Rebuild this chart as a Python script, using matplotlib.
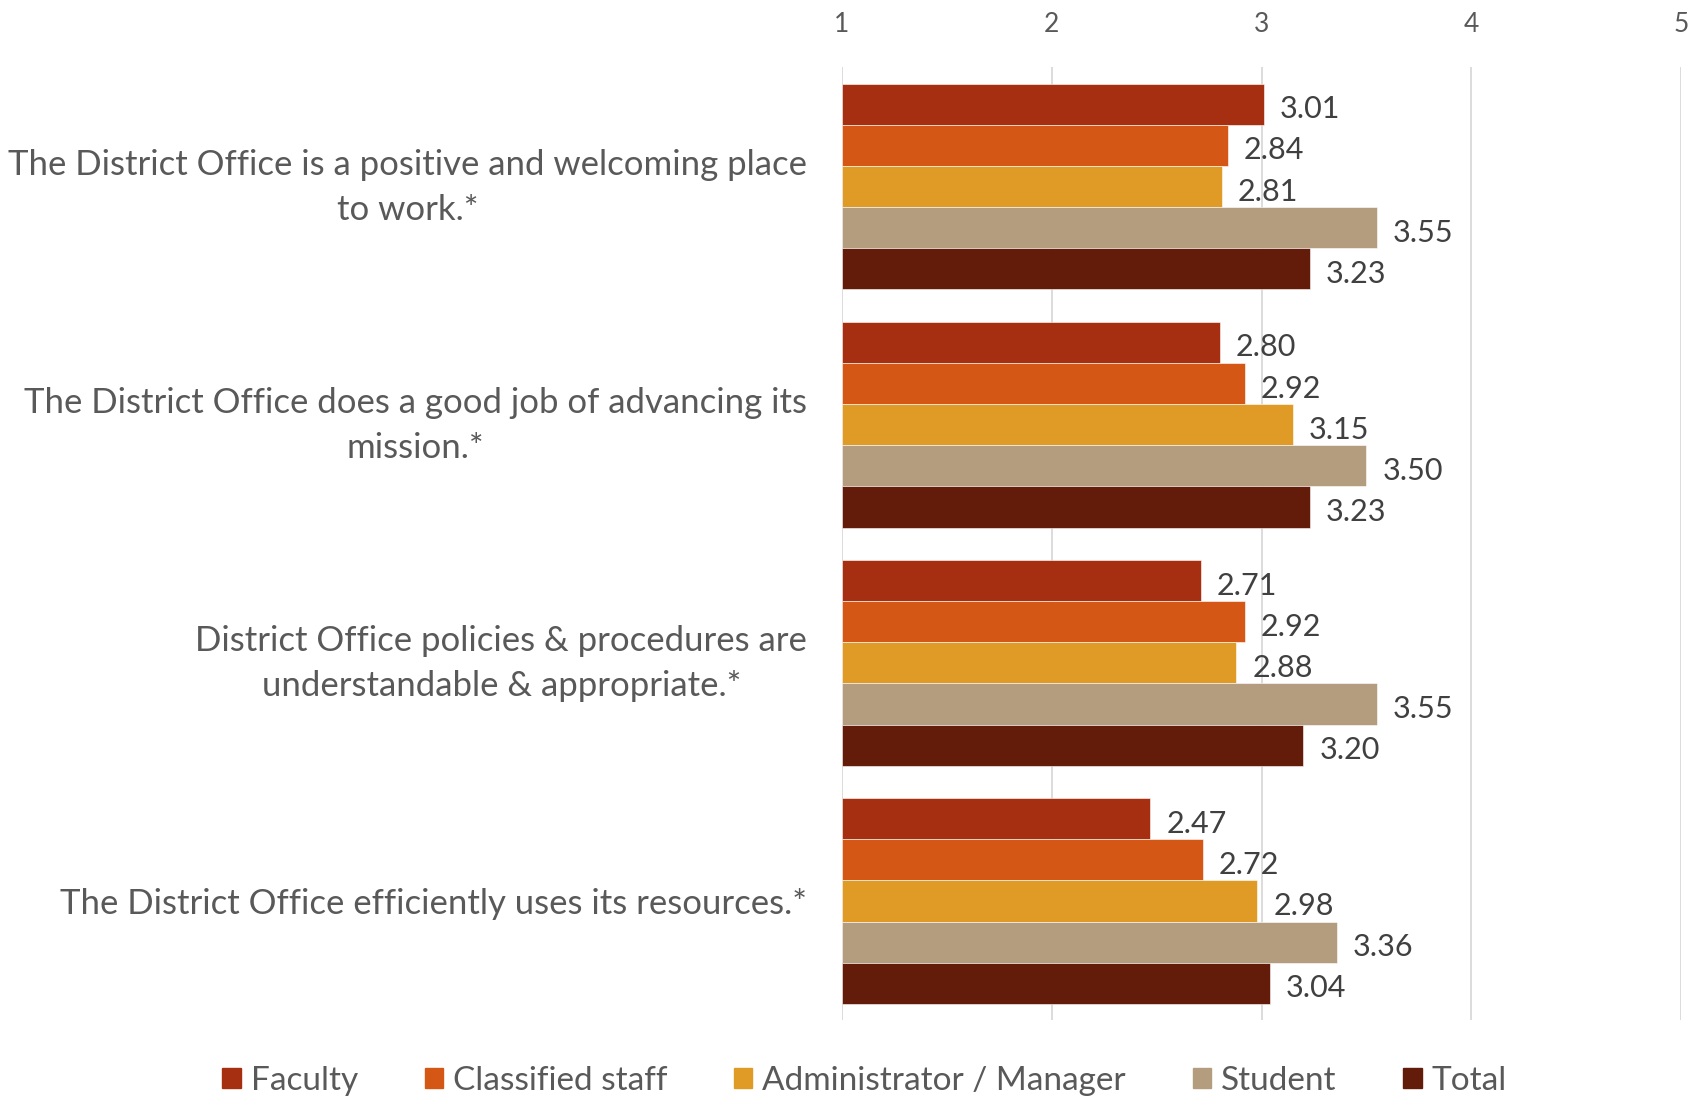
import matplotlib
matplotlib.use("Agg")
import matplotlib.pyplot as plt
import matplotlib.transforms as mtransforms
import numpy as np

categories = [
    "The District Office is a positive and welcoming place\nto work.*",
    "The District Office does a good job of advancing its\nmission.*",
    "District Office policies & procedures are\nunderstandable & appropriate.*",
    "The District Office efficiently uses its resources.*",
]
series_names = ["Faculty", "Classified staff", "Administrator / Manager", "Student", "Total"]
faculty = [3.01, 2.80, 2.71, 2.47]
classified = [2.84, 2.92, 2.92, 2.72]
admin = [2.81, 3.15, 2.88, 2.98]
student = [3.55, 3.50, 3.55, 3.36]
total = [3.23, 3.23, 3.20, 3.04]
series_values = [faculty, classified, admin, student, total]
colors = ["#A52F10", "#D55716", "#E09A26", "#B39D7E", "#641C0A"]
xticks = [1, 2, 3, 4, 5]

plt.rcParams['font.family'] = ['Lato', 'DejaVu Sans']
text_color = "#595959"

fig = plt.figure(figsize=(17.02, 11.0), dpi=100)
ax = fig.add_axes([0.4947, 0.0727, 0.493, 0.866])

n = len(series_values)
bar_h = 0.864 / n
y_centers = np.arange(len(categories))
for i, (name, vals, c) in enumerate(zip(series_names, series_values, colors)):
    offs = (i - (n - 1) / 2) * bar_h
    ys = y_centers + offs
    left = 1
    ax.barh(ys, np.array(vals) - left, left=left, height=bar_h, color=c,
            label=name, edgecolor='white', linewidth=0.4, zorder=3)
    for y, v in zip(ys, vals):
        ax.annotate(f"{v:.2f}", xy=(v, y), xytext=(16, -5), textcoords='offset pixels',
                    va='center', ha='left', fontsize=22, color="#404040")

ax.set_xlim(1, 5)
ax.set_ylim(len(categories) - 0.5, -0.5)
ax.set_xticks(xticks)
ax.set_xticklabels([str(t) for t in xticks])
ax.xaxis.tick_top()
ax.tick_params(axis='x', length=0, pad=22, labelsize=19, labelcolor=text_color)
ax.set_yticks(y_centers)
ax.set_yticklabels(categories, fontsize=25, color=text_color, multialignment='center',
                   linespacing=1.5)
ax.tick_params(axis='y', length=0, pad=25)
shift = mtransforms.ScaledTranslation(0, 0.085, fig.dpi_scale_trans)
for lbl in ax.get_yticklabels():
    if "\n" in lbl.get_text():
        lbl.set_transform(lbl.get_transform() + shift)
ax.grid(axis='x', color='#D9D9D9', linewidth=1.3, zorder=0)
for s in ax.spines.values():
    s.set_visible(False)

handles = [plt.Rectangle((0, 0), 1, 1, color=c) for c in colors]
leg = fig.legend(handles, series_names, loc='center', bbox_to_anchor=(0.508, 0.0175),
                 ncol=5, frameon=False, fontsize=24, handlelength=0.55, handleheight=0.55,
                 handletextpad=0.3, columnspacing=2.0)
for t in leg.get_texts():
    t.set_color(text_color)

fig.savefig("out.png", dpi=100, facecolor='white')
